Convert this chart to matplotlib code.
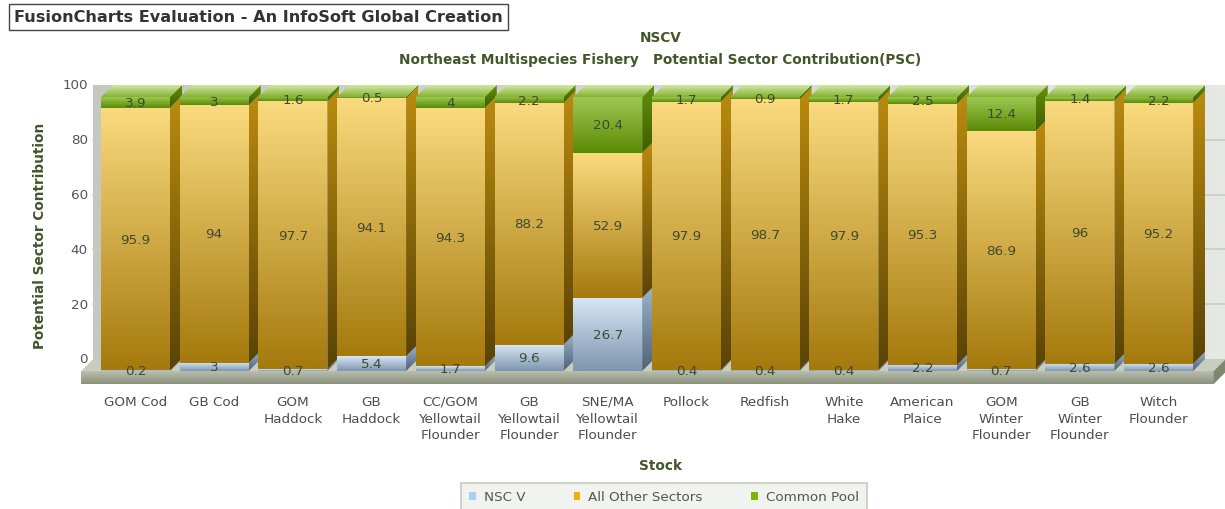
import numpy as np
import matplotlib
matplotlib.use("Agg")
import matplotlib.pyplot as plt
from matplotlib.patches import Polygon, Patch
from matplotlib.colors import to_rgb

# ---------------- data ----------------
categories = ["GOM Cod", "GB Cod", "GOM\nHaddock", "GB\nHaddock",
              "CC/GOM\nYellowtail\nFlounder", "GB\nYellowtail\nFlounder",
              "SNE/MA\nYellowtail\nFlounder", "Pollock", "Redfish",
              "White\nHake", "American\nPlaice", "GOM\nWinter\nFlounder",
              "GB\nWinter\nFlounder", "Witch\nFlounder"]
nsc_v = [0.2, 3, 0.7, 5.4, 1.7, 9.6, 26.7, 0.4, 0.4, 0.4, 2.2, 0.7, 2.6, 2.6]
all_other = [95.9, 94, 97.7, 94.1, 94.3, 88.2, 52.9, 97.9, 98.7, 97.9, 95.3, 86.9, 96, 95.2]
common_pool = [3.9, 3, 1.6, 0.5, 4, 2.2, 20.4, 1.7, 0.9, 1.7, 2.5, 12.4, 1.4, 2.2]
series_names = ["NSC V", "All Other Sectors", "Common Pool"]
y_ticks = [0, 20, 40, 60, 80, 100]

# ---------------- styles ----------------
W, H = 1225, 510
front_cols = [("#D6E7F6", "#7F96AF"), ("#FADA7E", "#A57A0D"), ("#9CC852", "#5B8A05")]
side_cols = [("#9CB4CC", "#4E6278"), ("#BA8B0E", "#5A4306"), ("#62900C", "#3D5E00")]
top_cols = [("#E4EEF8", "#B4C8DC"), ("#FCE6A4", "#D8A82C"), ("#D2E8A4", "#84B232")]
legend_cols = ["#A9D1F2", "#F2B203", "#7DB506"]
txt_dark = "#3E4A30"
title_col = "#44552A"
lab_fs = 9.7
bold_fs = 9.8

fig = plt.figure(figsize=(W / 100, H / 100), dpi=100)
# front plane mapping: category i centre at px 135.5 + 78.7*i ; value v at 138 + 2.74*v from bottom
slot_px, x0_px = 78.7, 135.5
unit_px, y0_px = 2.74, 138.0
ax = fig.add_axes([0, 0, 1, 1])
ax.set_xlim((0 - x0_px) / slot_px, (W - x0_px) / slot_px)
ax.set_ylim((0 - y0_px) / unit_px, (H - y0_px) / unit_px)
ax.axis("off")

DX = 12 / slot_px
DY = 12 / unit_px
bar_w = 69 / slot_px
wall_l, wall_r = -0.69, 13.7
floor_t = 13 / unit_px


def grad(poly, c_top, c_bot, z, horizontal=False):
    xy = np.asarray(poly)
    ext = (xy[:, 0].min(), xy[:, 0].max(), xy[:, 1].min(), xy[:, 1].max())
    t = np.linspace(0, 1, 64)[:, None]
    a, b = np.array(to_rgb(c_top)), np.array(to_rgb(c_bot))
    arr = (a * (1 - t) + b * t)[:, None, :]
    if horizontal:
        arr = arr.transpose(1, 0, 2)
    im = ax.imshow(arr, extent=ext, origin="upper", aspect="auto",
                   interpolation="bilinear", zorder=z)
    clip = Polygon(xy, closed=True, transform=ax.transData)
    im.set_clip_path(clip)
    return im


# back wall
bw = [(wall_l + DX, DY), (wall_r + DX, DY), (wall_r + DX, 100 + DY), (wall_l + DX, 100 + DY)]
grad(bw, "#C4C8C0", "#E6E8E4", 1, horizontal=True)
for v in y_ticks[1:-1]:
    ax.plot([wall_l + DX, wall_r + DX], [v + DY, v + DY], color="#C3D1B9", lw=1.2, zorder=1.5)

# floor
ft = [(wall_l, 0), (wall_r, 0), (wall_r + DX, DY), (wall_l + DX, DY)]
ax.add_patch(Polygon(ft, closed=True, fc="#C9CDBF", ec="none", zorder=2))
ff = [(wall_l, -floor_t), (wall_r, -floor_t), (wall_r, 0), (wall_l, 0)]
grad(ff, "#B9BEAE", "#8B927C", 2)
fs = [(wall_r, -floor_t), (wall_r + DX, DY - floor_t), (wall_r + DX, DY), (wall_r, 0)]
ax.add_patch(Polygon(fs, closed=True, fc="#7E8670", ec="none", zorder=2))

# y tick labels on the back wall
for v in y_ticks:
    ax.text(wall_l + DX - 0.07, v + DY, str(v), ha="right", va="center",
            fontsize=lab_fs, color="#555555", zorder=20)

# bars
series = [nsc_v, all_other, common_pool]
for i in range(len(categories)):
    z = 3 + i * 0.1
    xl, xr = i - bar_w / 2, i + bar_w / 2
    bottom = 0.0
    segs = []
    for s, vals in enumerate(series):
        segs.append((s, bottom, bottom + vals[i], vals[i]))
        bottom += vals[i]
    # side faces
    for s, y0, y1, v in segs:
        side = [(xr, y0), (xr + DX, y0 + DY), (xr + DX, y1 + DY), (xr, y1)]
        grad(side, side_cols[s][0], side_cols[s][1], z)
    # top face
    s_top, _, ytop, _ = segs[-1]
    top = [(xl, ytop), (xr, ytop), (xr + DX, ytop + DY), (xl + DX, ytop + DY)]
    grad(top, top_cols[s_top][0], top_cols[s_top][1], z + 0.01)
    # front faces
    for s, y0, y1, v in segs:
        fr = [(xl, y0), (xr, y0), (xr, y1), (xl, y1)]
        grad(fr, front_cols[s][0], front_cols[s][1], z + 0.02)
    for s, y0, y1, v in segs:
        ax.text(i, (y0 + y1) / 2, f"{v:g}", ha="center", va="center",
                fontsize=lab_fs, color=txt_dark, zorder=30)

# category labels
for i, c in enumerate(categories):
    ax.text(i, (H - 396 - y0_px) / unit_px, c, ha="center", va="top",
            fontsize=lab_fs, color="#4D4D4D", linespacing=1.36, multialignment="center")

# titles
fig.text(14 / W, 1 - 18 / H, "FusionCharts Evaluation - An InfoSoft Global Creation",
         fontsize=11.6, fontweight="bold", color="#333333", va="center", ha="left",
         bbox=dict(boxstyle="square,pad=0.33", fc="white", ec="#444444", lw=1))
fig.text(661 / W, 1 - 38 / H, "NSCV", fontsize=bold_fs, fontweight="bold",
         color=title_col, ha="center", va="center")
fig.text(660 / W, 1 - 60 / H,
         "Northeast Multispecies Fishery   Potential Sector Contribution(PSC)",
         fontsize=bold_fs, fontweight="bold", color=title_col, ha="center", va="center")
fig.text(40 / W, 1 - 236 / H, "Potential Sector Contribution", rotation=90,
         fontsize=bold_fs, fontweight="bold", color=title_col, ha="center", va="center")
fig.text(661 / W, 1 - 466 / H, "Stock", fontsize=bold_fs, fontweight="bold",
         color=title_col, ha="center", va="center")

# legend
handles = [Patch(fc=c, ec="none") for c in legend_cols]
leg = fig.legend(handles, series_names, loc="center", bbox_to_anchor=(664 / W, 1 - 498 / H),
                 ncol=3, fontsize=lab_fs, frameon=True, fancybox=False,
                 handlelength=0.5, handleheight=0.5, handletextpad=0.6,
                 columnspacing=3.6, borderpad=0.55, labelcolor="#555555")
leg.get_frame().set_facecolor("#EEF0EA")
leg.get_frame().set_edgecolor("#C5C9BD")
leg.get_frame().set_linewidth(1.5)

fig.savefig("out.png", dpi=100)
